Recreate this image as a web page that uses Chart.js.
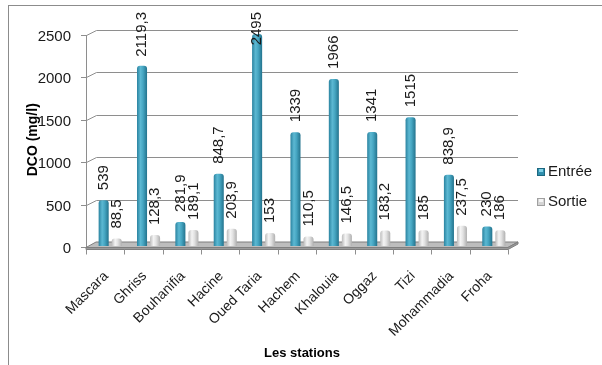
<!DOCTYPE html>
<html>
<head>
<meta charset="utf-8">
<script src="https://cdn.jsdelivr.net/npm/chart.js@4/dist/chart.umd.min.js"></script>
<style>
  html, body { margin: 0; padding: 0; background: #fff; }
  #wrap { width: 602px; height: 365px; position: relative; }
</style>
</head>
<body>
<div id="wrap"><canvas id="c" width="602" height="365"></canvas></div>
<script>
const stations = ['Mascara', 'Ghriss', 'Bouhanifia', 'Hacine', 'Oued Taria', 'Hachem',
  'Khalouia', 'Oggaz', 'Tizi', 'Mohammadia', 'Froha'];
const entree = [539, 2119.3, 281.9, 848.7, 2495, 1339, 1966, 1341, 1515, 838.9, 230];
const sortie = [88.5, 128.3, 189.1, 203.9, 153, 110.5, 146.5, 183.2, 185, 237.5, 186];
const yTicks = [0, 500, 1000, 1500, 2000, 2500];
const seriesNames = ['Entrée', 'Sortie'];

const FONT = '"Liberation Sans", Arial, sans-serif';
const DEPTH = 5; // half depth of the pseudo-3D box

function fmt(v) { return String(v).replace('.', ','); }

function barGradient(ctx, x0, x1, kind) {
  const g = ctx.createLinearGradient(x0, 0, x1, 0);
  if (kind === 0) {
    g.addColorStop(0, '#2a83a0');
    g.addColorStop(0.35, '#5cb8d2');
    g.addColorStop(0.6, '#46a6c2');
    g.addColorStop(1, '#23738d');
  } else {
    g.addColorStop(0, '#bcbcbc');
    g.addColorStop(0.35, '#f4f4f4');
    g.addColorStop(0.6, '#e2e2e2');
    g.addColorStop(1, '#b0b0b0');
  }
  return g;
}

// Frame, back wall grid lines, axis line and floor
const wallsPlugin = {
  id: 'walls',
  beforeDatasetsDraw(chart) {
    const { ctx, chartArea: a, scales: { x, y } } = chart;
    ctx.save();
    ctx.strokeStyle = '#8c8c8c';
    ctx.lineWidth = 1;
    ctx.strokeRect(8.5, 5.5, 640, 420);

    const fl = a.left - DEPTH, fr = a.right - DEPTH;
    const bl = a.left + DEPTH, br = a.right + DEPTH;
    ctx.strokeStyle = '#8e8e8e';
    yTicks.forEach(v => {
      if (v === 0) return;
      const py = Math.round(y.getPixelForValue(v)) + 0.5;
      ctx.beginPath();
      ctx.moveTo(fl + 0.5, py + 1);
      ctx.lineTo(bl + 0.5, py - 4);
      ctx.lineTo(br, py - 4);
      ctx.stroke();
      // tick mark on the axis
      ctx.beginPath();
      ctx.moveTo(fl - 5, py + 1);
      ctx.lineTo(fl + 0.5, py + 1);
      ctx.stroke();
    });
    const y0 = y.getPixelForValue(0);
    // axis line
    ctx.beginPath();
    ctx.moveTo(fl + 0.5, y.getPixelForValue(2500) + 1.5);
    ctx.lineTo(fl + 0.5, y0 + 2);
    ctx.stroke();
    ctx.beginPath();
    ctx.moveTo(fl - 5, y0 + 1.5);
    ctx.lineTo(fl + 0.5, y0 + 1.5);
    ctx.stroke();

    // floor
    ctx.beginPath();
    ctx.moveTo(fl, y0 + 1.5);
    ctx.lineTo(fr, y0 + 1.5);
    ctx.lineTo(br, y0 - 4);
    ctx.lineTo(bl, y0 - 4);
    ctx.closePath();
    ctx.fillStyle = '#bdbdbd';
    ctx.fill();
    ctx.strokeStyle = '#7f7f7f';
    ctx.stroke();
    ctx.fillStyle = '#9a9a9a';
    ctx.beginPath();
    ctx.moveTo(fl, y0 + 1.5);
    ctx.lineTo(fr, y0 + 1.5);
    ctx.lineTo(br, y0 - 4);
    ctx.lineTo(br, y0 - 2);
    ctx.lineTo(fr, y0 + 3.5);
    ctx.lineTo(fl, y0 + 3.5);
    ctx.closePath();
    ctx.fill();
    ctx.stroke();

    // category tick marks under the floor edge
    const n = stations.length;
    const w = (a.right - a.left) / n;
    ctx.strokeStyle = '#8e8e8e';
    for (let k = 0; k <= n; k++) {
      const px = Math.round(fl + k * w) + 0.5;
      ctx.beginPath();
      ctx.moveTo(px, y0 + 3.5);
      ctx.lineTo(px, y0 + 8.5);
      ctx.stroke();
    }

    // shaded fills for the bars
    chart.data.datasets.forEach((ds, di) => {
      const meta = chart.getDatasetMeta(di);
      meta.data.forEach(el => {
        el.options.backgroundColor = barGradient(ctx, el.x - el.width / 2, el.x + el.width / 2, di);
      });
    });
    ctx.restore();
  }
};

// Rotated value labels above each bar
const valuesPlugin = {
  id: 'values',
  afterDatasetsDraw(chart) {
    const { ctx } = chart;
    ctx.save();
    ctx.font = '15px ' + FONT;
    ctx.fillStyle = '#1a1a1a';
    ctx.textAlign = 'left';
    ctx.textBaseline = 'middle';
    chart.data.datasets.forEach((ds, di) => {
      const meta = chart.getDatasetMeta(di);
      meta.data.forEach((el, i) => {
        const txt = fmt(ds.data[i]);
        const w = ctx.measureText(txt).width;
        let bottom = el.y - 10;
        if (bottom - w < 12) bottom = 12 + w;
        ctx.save();
        ctx.translate(el.x, bottom);
        ctx.rotate(-Math.PI / 2);
        ctx.fillText(txt, 0, 0);
        ctx.restore();
      });
    });
    ctx.restore();
  }
};

// Legend on the right
const legendPlugin = {
  id: 'sideLegend',
  afterDraw(chart) {
    const { ctx } = chart;
    ctx.save();
    ctx.font = '15px ' + FONT;
    ctx.textBaseline = 'middle';
    ctx.textAlign = 'left';
    const rows = [172, 202];
    chart.data.datasets.forEach((ds, di) => {
      const cy = rows[di];
      const bx = 537, by = cy - 4;
      ctx.fillStyle = di === 0 ? '#2f8fae' : '#d4d4d4';
      ctx.fillRect(bx, by, 8, 8);
      ctx.fillStyle = di === 0 ? '#7fd0e6' : '#f4f4f4';
      ctx.fillRect(bx + 2, by + 1, 4, 3);
      ctx.strokeStyle = di === 0 ? '#1d6880' : '#a0a0a0';
      ctx.lineWidth = 1;
      ctx.strokeRect(bx + 0.5, by + 0.5, 7, 7);
      ctx.fillStyle = '#1a1a1a';
      ctx.fillText(ds.label, 548, cy);
    });
    ctx.restore();
  }
};

new Chart(document.getElementById('c'), {
  type: 'bar',
  data: {
    labels: stations,
    datasets: [
      { label: seriesNames[0], data: entree, backgroundColor: () => '#3b9ab5',
        borderRadius: { topLeft: 3, topRight: 3 }, borderSkipped: 'bottom',
        categoryPercentage: 0.68, barPercentage: 0.77 },
      { label: seriesNames[1], data: sortie, backgroundColor: () => '#dadada',
        borderRadius: { topLeft: 3, topRight: 3 }, borderSkipped: 'bottom',
        categoryPercentage: 0.68, barPercentage: 0.77 }
    ]
  },
  options: {
    responsive: false,
    animation: false,
    layout: { padding: { left: 0, right: 89, top: 33.5, bottom: 0 } },
    plugins: { legend: { display: false }, tooltip: { enabled: false } },
    scales: {
      x: {
        grid: { display: false, drawTicks: false },
        border: { display: false },
        ticks: { font: { family: FONT, size: 14 }, color: '#1a1a1a',
          maxRotation: 45, minRotation: 45, padding: 22, labelOffset: -4, autoSkip: false },
        title: { display: true, text: 'Les stations', color: '#000',
          font: { family: FONT, size: 13, weight: 'bold' }, padding: { top: 0, bottom: 4 } },
        afterFit(scale) { scale.height = 119; }
      },
      y: {
        min: 0, max: 2500,
        afterBuildTicks(scale) { scale.ticks = yTicks.map(v => ({ value: v })); },
        grid: { display: false, drawTicks: false },
        border: { display: false },
        ticks: { font: { family: FONT, size: 15 }, color: '#1a1a1a', padding: 20, labelOffset: 3,
          callback: v => String(v) },
        title: { display: true, text: 'DCO (mg/l)', color: '#000',
          font: { family: FONT, size: 14, weight: 'bold' }, padding: { top: 25, bottom: 0 } },
        afterFit(scale) { scale.width = 91; }
      }
    }
  },
  plugins: [wallsPlugin, valuesPlugin, legendPlugin]
});
</script>
</body>
</html>
